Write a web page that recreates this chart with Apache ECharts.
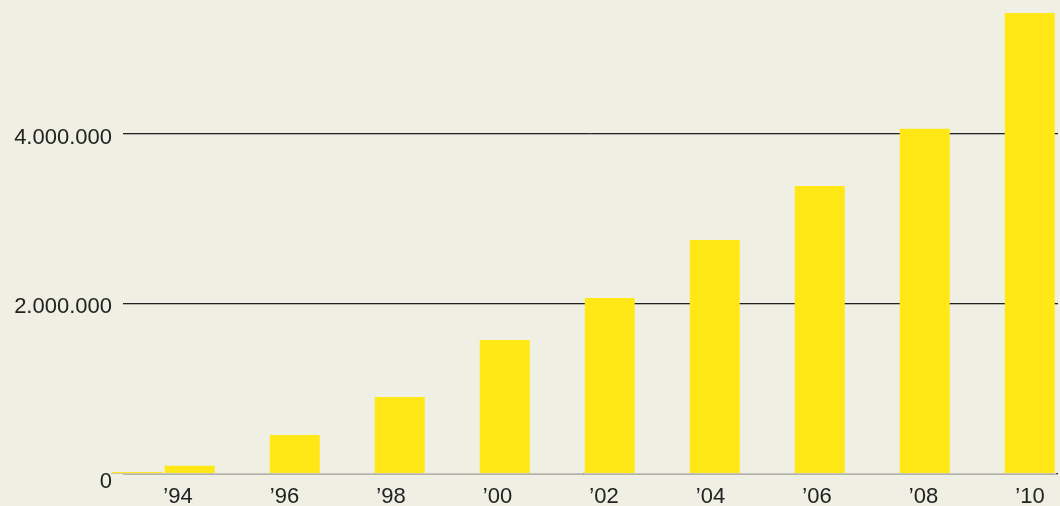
<!DOCTYPE html>
<html>
<head>
<meta charset="utf-8">
<script src="https://cdn.jsdelivr.net/npm/echarts@6/dist/echarts.min.js"></script>
<style>
html,body{margin:0;padding:0;background:#f0efe4;}
#chart{width:1060px;height:506px;}
</style>
</head>
<body>
<div id="chart"></div>
<script>
const years = ['1993','1994','1995','1996','1997','1998','1999','2000','2001','2002','2003','2004','2005','2006','2007','2008','2009','2010'];
const values = [12000, 87000, null, 449000, null, 896000, null, 1568000, null, 2062000, null, 2746000, null, 3382000, null, 4056000, null, 5419000];
const labeledYears = ['1994','1996','1998','2000','2002','2004','2006','2008','2010'];
const yTicks = [0, 2000000, 4000000];

const FONT = 'Liberation Sans';
const FS = 22;
const chart = echarts.init(document.getElementById('chart'));
chart.setOption({
  backgroundColor: '#f0efe4',
  animation: false,
  grid: [
    {left: 111, right: 4, top: -36.3, bottom: 32.9, outerBoundsMode: 'none', containLabel: false},
    {left: 123, right: 2, top: -36.3, bottom: 32.9, outerBoundsMode: 'none', containLabel: false},
    {left: 124.75, right: -23.25, top: -36.3, bottom: 32.9, outerBoundsMode: 'none', containLabel: false}
  ],
  xAxis: [
    {
      type: 'category', gridIndex: 0, data: years, offset: 1,
      axisLine: {show: true, lineStyle: {color: '#c4c4bc', width: 1}},
      axisTick: {show: false},
      axisLabel: {show: false}
    },
    {type: 'value', gridIndex: 1, show: false, min: 0, max: 1},
    {
      type: 'category', gridIndex: 2, data: labeledYears,
      axisLine: {show: false}, axisTick: {show: false},
      axisLabel: {
        interval: 0, margin: 13, color: '#222', fontFamily: FONT, fontSize: FS,
        formatter: v => '\u2019' + v.slice(2)
      }
    }
  ],
  yAxis: [
    {type: 'value', gridIndex: 0, min: 0, max: 6000000, interval: 2000000, show: false},
    {
      type: 'value', gridIndex: 1, min: 0, max: 6000000, interval: 2000000,
      axisLine: {show: false}, axisTick: {show: false},
      splitLine: {show: true, showMaxLine: false, lineStyle: {color: '#222', width: 1, shadowColor: 'rgba(0,0,0,0.25)', shadowOffsetY: 1}},
      axisLabel: {
        margin: 11, color: '#222', fontFamily: FONT, fontSize: FS,
        formatter: v => {
          if (!yTicks.includes(v)) return '';
          if (v === 0) return '{z|0}';
          return '{n|' + String(v).replace(/\B(?=(\d{3})+(?!\d))/g, '.') + '}';
        },
        rich: {
          z: {padding: [17, 0, 0, 0], fontSize: FS, fontFamily: FONT, color: '#222'},
          n: {padding: [8, 0, 0, 0], fontSize: FS, fontFamily: FONT, color: '#222'}
        }
      }
    },
    {type: 'value', gridIndex: 2, show: false, min: 0, max: 1}
  ],
  series: [{
    type: 'bar', xAxisIndex: 0, yAxisIndex: 0, data: values,
    barWidth: 50,
    itemStyle: {color: '#ffe815'},
    z: 5
  }]
});
</script>
</body>
</html>
